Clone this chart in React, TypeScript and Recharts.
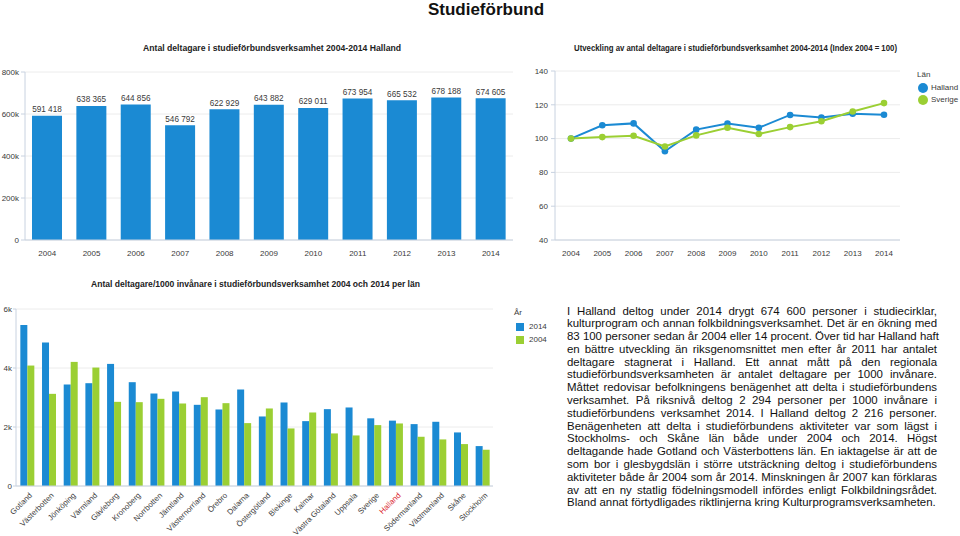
import React from 'react';
import { BarChart, Bar, XAxis, YAxis, CartesianGrid, LabelList, LineChart, Line } from 'recharts';

const years = ['2004', '2005', '2006', '2007', '2008', '2009', '2010', '2011', '2012', '2013', '2014'];
const deltagare = [591418, 638365, 644856, 546792, 622929, 643882, 629011, 673954, 665532, 678188, 674605];
const indexHalland = [100, 107.9, 109.0, 92.5, 105.3, 108.9, 106.4, 114.0, 112.5, 114.7, 114.1];
const indexSverige = [100, 100.9, 101.7, 95.3, 101.9, 106.4, 102.7, 106.8, 110.3, 116.0, 121.0];

const lan = ['Gotland', 'Västerbotten', 'Jönköping', 'Värmland', 'Gävleborg', 'Kronoberg', 'Norrbotten', 'Jämtland', 'Västernorrland', 'Örebro', 'Dalarna', 'Östergötland', 'Blekinge', 'Kalmar', 'Västra Götaland', 'Uppsala', 'Sverige', 'Halland', 'Södermanland', 'Västmanland', 'Skåne', 'Stockholm'];
const per1000_2014 = [5459, 4861, 3440, 3485, 4139, 3519, 3135, 3203, 2752, 2594, 3271, 2357, 2831, 2199, 2605, 2662, 2294, 2216, 2098, 2177, 1816, 1353];
const per1000_2004 = [4083, 3124, 4207, 4015, 2853, 2842, 2955, 2797, 3011, 2808, 2132, 2628, 1951, 2492, 1782, 1714, 2064, 2120, 1669, 1579, 1421, 1229];

const leftTicks = [0, 200000, 400000, 600000, 800000];
const rightTicks = [40, 60, 80, 100, 120, 140];
const bottomTicks = [0, 2000, 4000, 6000];

const mainTitle = 'Studieförbund';
const title1 = 'Antal deltagare i studieförbundsverksamhet 2004-2014 Halland';
const title2 = 'Utveckling av antal deltagare i studieförbundsverksamhet 2004-2014 (Index 2004 = 100)';
const title3 = 'Antal deltagare/1000 invånare i studieförbundsverksamhet 2004 och 2014 per län';

const paragraph = [
  'I Halland deltog under 2014 drygt 674 600 personer i studiecirklar,',
  'kulturprogram och annan folkbildningsverksamhet. Det är en ökning med',
  '83 100 personer sedan år 2004 eller 14 procent. Över tid har Halland haft',
  'en bättre utveckling än riksgenomsnittet men efter år 2011 har antalet',
  'deltagare stagnerat i Halland. Ett annat mått på den regionala',
  'studieförbundsverksamheten är antalet deltagare per 1000 invånare.',
  'Måttet redovisar befolkningens benägenhet att delta i studieförbundens',
  'verksamhet. På riksnivå deltog 2 294 personer per 1000 invånare i',
  'studieförbundens verksamhet 2014. I Halland deltog 2 216 personer.',
  'Benägenheten att delta i studieförbundens aktiviteter var som lägst i',
  'Stockholms- och Skåne län både under 2004 och 2014. Högst',
  'deltagande hade Gotland och Västerbottens län. En iaktagelse är att de',
  'som bor i glesbygdslän i större utsträckning deltog i studieförbundens',
  'aktiviteter både år 2004 som år 2014. Minskningen år 2007 kan förklaras',
  'av att en ny statlig födelningsmodell infördes enligt Folkbildningsrådet.',
  'Bland annat förtydligades riktlinjerna kring Kulturprogramsverksamheten.',
];

const BLUE = '#1b8ad3';
const GREEN = '#9bcf33';
const AXIS = '#c8d2e0';
const GRID = '#ececec';
const TXT = '#3a3a3a';
const FONT = "'Liberation Sans', Arial, Helvetica, sans-serif";

const data1 = years.map((y, i) => ({ year: y, value: deltagare[i] }));
const data2 = years.map((y, i) => ({ year: y, halland: indexHalland[i], sverige: indexSverige[i] }));
const data3 = lan.map((l, i) => ({ lan: l, v2014: per1000_2014[i], v2004: per1000_2004[i] }));

const spaced = (n: number) => String(n).replace(/\B(?=(\d{3})+(?!\d))/g, ' ');
const kfmt = (n: number) => (n === 0 ? '0' : `${n / 1000}k`);

const FitTitle = ({ text, cx, cy, w, size }: { text: string; cx: number; cy: number; w: number; size: number }) => (
  <svg style={{ position: 'absolute', left: cx - w / 2 - 5, top: cy - 10, overflow: 'visible' }} width={w + 10} height={20}>
    <text x={(w + 10) / 2} y={10} dy="0.35em" textAnchor="middle" textLength={w} lengthAdjust="spacingAndGlyphs"
      fontSize={size} fontWeight="bold" fill="#222" fontFamily={FONT}>{text}</text>
  </svg>
);

const RotTick = (props: any) => {
  const { x, y, payload } = props;
  const red = payload.value === 'Halland';
  return (
    <g transform={`translate(${x + 3},${y - 1})`}>
      <text x={0} y={0} dy={4} textAnchor="end" transform="rotate(-45)" fontSize={7.8}
        fill={red ? '#d9222a' : TXT} fontFamily={FONT}>{payload.value}</text>
    </g>
  );
};

const ValueLabel = (props: any) => {
  const { x, y, width, value } = props;
  return (
    <text x={Number(x) + Number(width) / 2} y={Number(y) - 3.5} textAnchor="middle" fontSize={8.2}
      fill={TXT} fontFamily={FONT}>{spaced(Number(value))}</text>
  );
};

export default function App() {
  const tickStyle = { fontSize: 8, fill: TXT, fontFamily: FONT };
  return (
    <div style={{ position: 'absolute', left: 0, top: 0, width: 960, height: 536, background: '#fff', fontFamily: FONT, overflow: 'hidden' }}>
      <div style={{ position: 'absolute', left: 0, top: 0, width: 972, textAlign: 'center', fontSize: 17, fontWeight: 'bold', lineHeight: '20px', color: '#111' }}>
        {mainTitle}
      </div>
      <FitTitle text={title1} cx={272} cy={48} w={258} size={9} />
      <FitTitle text={title2} cx={735} cy={48} w={323} size={9} />
      <FitTitle text={title3} cx={255} cy={284} w={329} size={9} />

      <div style={{ position: 'absolute', left: 0, top: 60 }}>
        <BarChart width={520} height={200} data={data1} margin={{ top: 12, right: 7, bottom: 0, left: 0 }}>
          <CartesianGrid vertical={false} stroke={GRID} />
          <XAxis dataKey="year" height={20} tick={tickStyle} tickLine={false} axisLine={{ stroke: AXIS }} tickMargin={4} />
          <YAxis width={25} domain={[0, 800000]} ticks={leftTicks} tickFormatter={kfmt} tick={tickStyle}
            tickLine={{ stroke: AXIS }} tickSize={4} tickMargin={2} axisLine={{ stroke: AXIS }} interval={0} />
          <Bar dataKey="value" fill={BLUE} barSize={30} isAnimationActive={false}>
            <LabelList dataKey="value" content={<ValueLabel />} />
          </Bar>
        </BarChart>
      </div>

      <div style={{ position: 'absolute', left: 520, top: 60 }}>
        <LineChart width={440} height={200} data={data2} margin={{ top: 11, right: 60, bottom: 0, left: 0 }}>
          <CartesianGrid vertical={false} stroke={GRID} />
          <XAxis dataKey="year" height={20} tick={tickStyle} tickLine={false} axisLine={{ stroke: AXIS }}
            padding={{ left: 16, right: 16 }} tickMargin={4} interval={0} />
          <YAxis width={35} domain={[40, 140]} ticks={rightTicks} tick={tickStyle} tickLine={{ stroke: AXIS }}
            tickSize={4} tickMargin={3} axisLine={{ stroke: AXIS }} interval={0} />
          <Line dataKey="halland" stroke={BLUE} strokeWidth={2} dot={{ r: 3.3, fill: BLUE, stroke: BLUE, strokeWidth: 0 }} isAnimationActive={false} />
          <Line dataKey="sverige" stroke={GREEN} strokeWidth={2} dot={{ r: 3.3, fill: GREEN, stroke: GREEN, strokeWidth: 0 }} isAnimationActive={false} />
        </LineChart>
      </div>

      <div style={{ position: 'absolute', left: 917, top: 70, fontSize: 8, color: TXT, lineHeight: '10px' }}>Län</div>
      {[{ n: 'Halland', c: BLUE, y: 87.5 }, { n: 'Sverige', c: GREEN, y: 100 }].map((e) => (
        <div key={e.n}>
          <div style={{ position: 'absolute', left: 918, top: e.y - 5, width: 10, height: 10, borderRadius: 5, background: e.c }} />
          <div style={{ position: 'absolute', left: 931, top: e.y - 5, fontSize: 8, lineHeight: '10px', color: TXT }}>{e.n}</div>
        </div>
      ))}

      <div style={{ position: 'absolute', left: 0, top: 290 }}>
        <BarChart width={500} height={246} data={data3} margin={{ top: 19, right: 7, bottom: 0, left: 0 }}
          barCategoryGap="20%" barGap={0}>
          <CartesianGrid vertical={false} stroke={GRID} />
          <XAxis dataKey="lan" height={50} tick={<RotTick />} tickLine={false} axisLine={{ stroke: AXIS }} interval={0} tickMargin={2} />
          <YAxis width={16} domain={[0, 6000]} ticks={bottomTicks} tickFormatter={kfmt} tick={tickStyle}
            tickLine={{ stroke: AXIS }} tickSize={3} tickMargin={1} axisLine={{ stroke: AXIS }} interval={0} />
          <Bar dataKey="v2014" fill={BLUE} isAnimationActive={false} />
          <Bar dataKey="v2004" fill={GREEN} isAnimationActive={false} />
        </BarChart>
      </div>

      <div style={{ position: 'absolute', left: 514, top: 308, fontSize: 8, color: TXT, lineHeight: '10px' }}>År</div>
      {[{ n: '2014', c: BLUE, y: 327 }, { n: '2004', c: GREEN, y: 340 }].map((e) => (
        <div key={e.n}>
          <div style={{ position: 'absolute', left: 516, top: e.y - 4, width: 8, height: 8, background: e.c }} />
          <div style={{ position: 'absolute', left: 529, top: e.y - 5, fontSize: 8, lineHeight: '10px', color: TXT }}>{e.n}</div>
        </div>
      ))}

      <div style={{ position: 'absolute', left: 567, top: 304.5, width: 370, fontSize: 11.45, lineHeight: '12.8px', color: '#111' }}>
        {paragraph.map((line, i) => (
          <div key={i} style={{ whiteSpace: 'nowrap', textAlign: 'justify', textAlignLast: i === paragraph.length - 1 ? 'left' : 'justify' }}>
            {line}
          </div>
        ))}
      </div>
    </div>
  );
}
